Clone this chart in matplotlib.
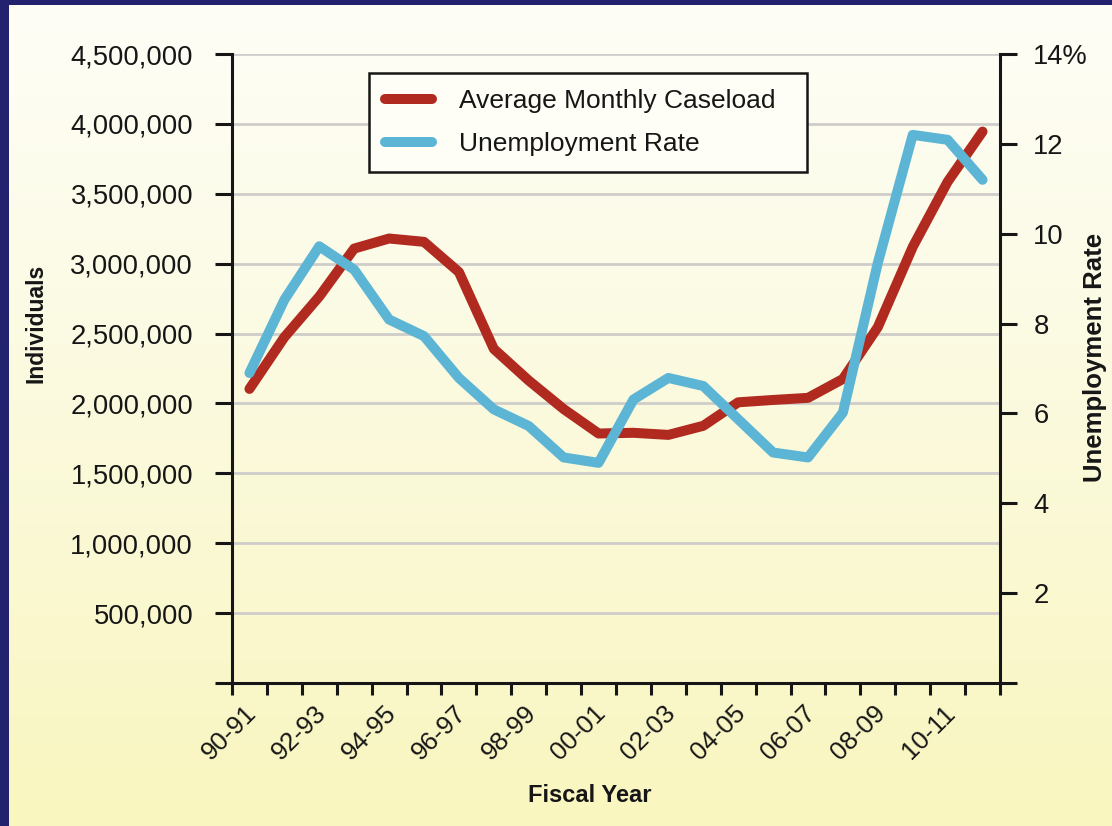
import numpy as np
import matplotlib
matplotlib.use("Agg")
import matplotlib.pyplot as plt
from matplotlib.colors import LinearSegmentedColormap
from matplotlib.patches import Rectangle
from matplotlib.ticker import FixedLocator, FuncFormatter
import matplotlib.transforms as mtransforms

plt.rcParams["font.family"] = ["Liberation Sans", "DejaVu Sans"]

# Fiscal years and series
fiscal_years = ["90-91", "91-92", "92-93", "93-94", "94-95", "95-96", "96-97",
                "97-98", "98-99", "99-00", "00-01", "01-02", "02-03", "03-04",
                "04-05", "05-06", "06-07", "07-08", "08-09", "09-10", "10-11",
                "11-12"]
caseload = [2104000, 2474000, 2765000, 3108000, 3180000, 3156000, 2940000,
            2390000, 2164000, 1960000, 1785000, 1790000, 1775000, 1840000,
            2008000, 2025000, 2040000, 2175000, 2546000, 3120000, 3586000,
            3945000]
unemployment = [6.9, 8.53, 9.72, 9.2, 8.09, 7.72, 6.79, 6.09, 5.72, 5.02,
                4.9, 6.31, 6.79, 6.61, 5.87, 5.13, 5.02, 6.02, 9.35, 12.2,
                12.09, 11.2]

left_ticks = [0, 500000, 1000000, 1500000, 2000000, 2500000, 3000000,
              3500000, 4000000, 4500000]
right_ticks = [0, 2, 4, 6, 8, 10, 12, 14]

RED = "#b12a1f"
BLUE = "#5cb5d5"
INK = "#161616"

W, H = 1112, 826
fig = plt.figure(figsize=(W / 100, H / 100), dpi=100)

# vertical cream-to-yellow backdrop
bg = fig.add_axes([0, 0, 1, 1], zorder=-10)
cmap = LinearSegmentedColormap.from_list(
    "backdrop", [(0.0, "#fefef7"), (0.35, "#fcfbe6"), (1.0, "#f9f6bf")])
grad = np.linspace(0, 1, 256).reshape(-1, 1)
bg.imshow(grad, aspect="auto", cmap=cmap, extent=[0, 1, 0, 1], origin="upper")
bg.set_xlim(0, 1)
bg.set_ylim(0, 1)
bg.axis("off")
# navy frame on the left and top edges
bg.add_patch(Rectangle((0, 0), 9 / W, 1, color="#23226f", lw=0))
bg.add_patch(Rectangle((0, 1 - 5 / H), 1, 5 / H, color="#23226f", lw=0))

x0, x1 = 232 / W, 1000 / W
y0, y1 = 1 - 683 / H, 1 - 54 / H
ax = fig.add_axes([x0, y0, x1 - x0, y1 - y0])
ax.patch.set_alpha(0)
ax2 = ax.twinx()
ax2.patch.set_alpha(0)

x = np.arange(len(fiscal_years))
ax.plot(x, caseload, color=RED, lw=7.2, solid_capstyle="round",
        solid_joinstyle="round", label="Average Monthly Caseload", zorder=3)
ax2.plot(x, unemployment, color=BLUE, lw=7.2, solid_capstyle="round",
         solid_joinstyle="round", label="Unemployment Rate", zorder=3)

ax.set_xlim(-0.5, len(fiscal_years) - 0.5)
ax.set_ylim(0, 4500000)
ax2.set_ylim(0, 14)

# spines
for s in ["top", "right"]:
    ax.spines[s].set_visible(False)
for s in ["top", "left", "bottom"]:
    ax2.spines[s].set_visible(False)
for sp in [ax.spines["left"], ax.spines["bottom"], ax2.spines["right"]]:
    sp.set_linewidth(2.2)
    sp.set_color(INK)

# horizontal grid
ax.set_yticks(left_ticks)
ax.yaxis.grid(True, color="#cfcdca", lw=2.0)
ax.set_axisbelow(True)
ax.yaxis.set_major_formatter(
    FuncFormatter(lambda v, p: "" if v == 0 else f"{int(v):,}"))
ax.tick_params(axis="y", direction="out", length=12, width=2.2, color=INK,
               labelsize=19.7, pad=16, labelcolor=INK)

ax2.set_yticks(right_ticks)
ax2.set_yticklabels(["" if v == 0 else (f"{v}%" if v == 14 else f"{v}")
                     for v in right_ticks])
ax2.tick_params(axis="y", direction="out", length=12, width=2.2, color=INK,
                labelsize=19.7, pad=12, labelcolor=INK)

# x axis: tick marks at year boundaries, labels at every other year
ax.xaxis.set_major_locator(FixedLocator(np.arange(-0.5, len(fiscal_years), 1)))
ax.xaxis.set_major_formatter(FuncFormatter(lambda v, p: ""))
ax.xaxis.set_minor_locator(FixedLocator(x[::2]))
ax.set_xticklabels(fiscal_years[::2], minor=True)
ax.tick_params(axis="x", which="major", direction="out", length=8.6,
               width=2.2, color=INK)
ax.tick_params(axis="x", which="minor", length=0, labelsize=18.5, pad=13,
               labelcolor=INK)
offset = mtransforms.ScaledTranslation(12 / 100, 0, fig.dpi_scale_trans)
for lbl in ax.xaxis.get_minorticklabels():
    lbl.set_rotation(45)
    lbl.set_ha("right")
    lbl.set_transform(lbl.get_transform() + offset)

# axis titles
fig.text(36 / W, 1 - 323 / H, "Individuals", rotation=90, ha="center",
         va="center", fontsize=16.5, fontweight="bold", color=INK)
fig.text(1095 / W, 1 - 357 / H, "Unemployment Rate", rotation=90,
         ha="center", va="center", fontsize=18.5, fontweight="bold", color=INK)
fig.text(590 / W, 1 - 796 / H, "Fiscal Year", ha="center", va="center",
         fontsize=17, fontweight="bold", color=INK)

# legend
h1, l1 = ax.get_legend_handles_labels()
h2, l2 = ax2.get_legend_handles_labels()
leg = ax2.legend(h1 + h2, l1 + l2, loc="upper left", mode="expand",
                 bbox_to_anchor=(369 / W, 1 - 170 / H, 438 / W, 97 / H),
                 bbox_transform=fig.transFigure, borderaxespad=0,
                 fontsize=19, frameon=True, fancybox=False,
                 handlelength=1.8, handletextpad=1.0, labelspacing=0.72,
                 borderpad=0.6)
frame = leg.get_frame()
frame.set_edgecolor(INK)
frame.set_linewidth(1.8)
frame.set_facecolor("#fefef6")
frame.set_alpha(1)
for t in leg.get_texts():
    t.set_color(INK)

fig.savefig("out.png", dpi=100)
